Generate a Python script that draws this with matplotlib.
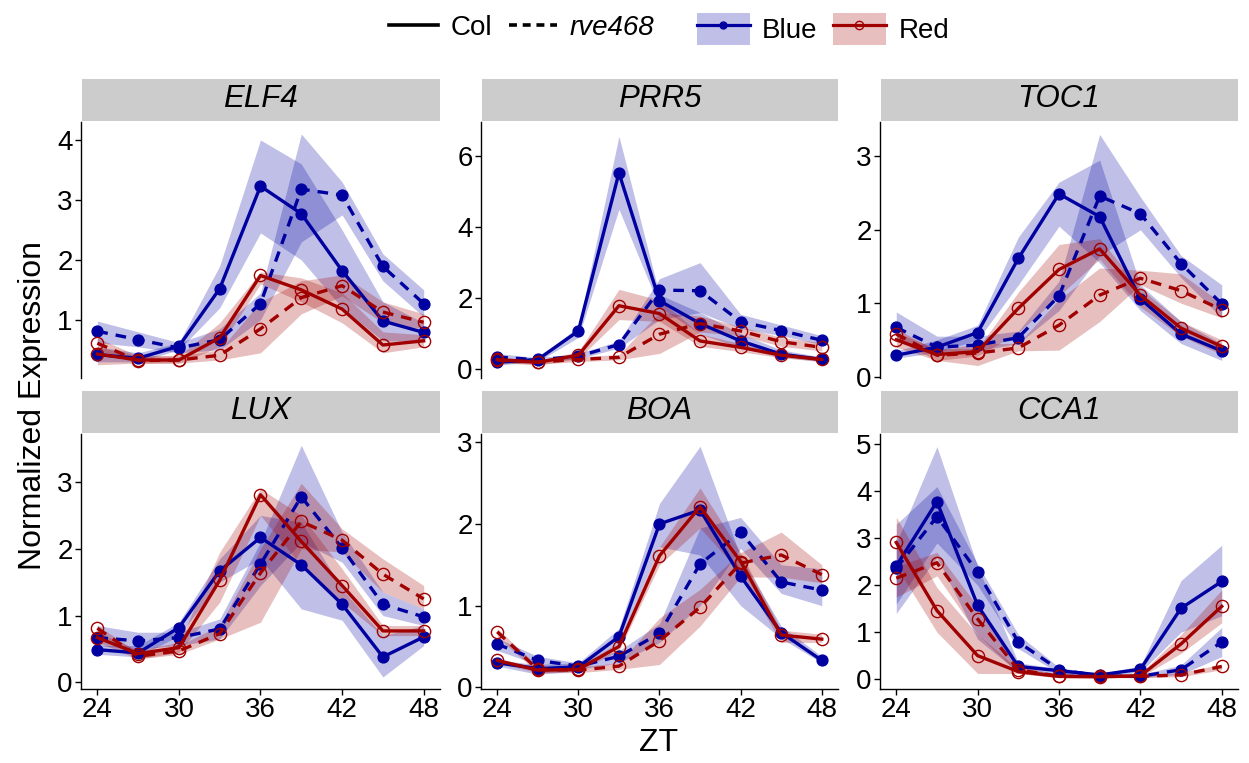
import matplotlib
matplotlib.use("Agg")
import matplotlib.pyplot as plt
from matplotlib.patches import Patch, Rectangle
from matplotlib.lines import Line2D
from matplotlib.legend_handler import HandlerTuple

plt.rcParams['font.family'] = ['Liberation Sans', 'DejaVu Sans']

# ----------------------------------------------------------------------------
# Data: ZT time points, each series is [mean, lower, upper]
# ----------------------------------------------------------------------------
zt = [24, 27, 30, 33, 36, 39, 42, 45, 48]
genes = ["ELF4", "PRR5", "TOC1", "LUX", "BOA", "CCA1"]

elf4_col_blue = [[0.42, 0.36, 0.56, 1.52, 3.23, 2.77, 1.82, 0.98, 0.79],
                 [0.30, 0.30, 0.50, 1.20, 2.45, 2.00, 1.20, 0.65, 0.65],
                 [0.55, 0.45, 0.62, 1.90, 4.00, 3.60, 2.50, 1.30, 0.95]]
elf4_rve_blue = [[0.81, 0.67, 0.53, 0.67, 1.27, 3.18, 3.08, 1.89, 1.27],
                 [0.62, 0.55, 0.45, 0.50, 1.00, 2.30, 2.75, 1.65, 1.05],
                 [0.98, 0.80, 0.62, 0.85, 1.45, 4.10, 3.30, 2.10, 1.50]]
elf4_col_red = [[0.43, 0.33, 0.33, 0.70, 1.74, 1.50, 1.18, 0.58, 0.65],
                [0.25, 0.28, 0.28, 0.55, 1.60, 1.30, 0.95, 0.45, 0.55],
                [0.55, 0.40, 0.40, 0.95, 1.80, 1.70, 1.45, 0.80, 0.75]]
elf4_rve_red = [[0.61, 0.32, 0.33, 0.41, 0.85, 1.37, 1.57, 1.13, 0.96],
                [0.50, 0.27, 0.28, 0.33, 0.45, 1.10, 1.40, 0.95, 0.85],
                [0.70, 0.40, 0.40, 0.50, 1.30, 1.65, 1.75, 1.30, 1.10]]

prr5_col_blue = [[0.20, 0.28, 1.08, 5.52, 1.93, 1.29, 0.80, 0.43, 0.28],
                 [0.12, 0.22, 0.90, 4.50, 1.75, 1.00, 0.60, 0.35, 0.22],
                 [0.30, 0.33, 1.20, 6.55, 2.10, 1.60, 1.00, 0.55, 0.35]]
prr5_rve_blue = [[0.35, 0.27, 0.37, 0.70, 2.23, 2.21, 1.34, 1.09, 0.82],
                 [0.25, 0.22, 0.30, 0.60, 1.40, 1.60, 1.15, 0.95, 0.70],
                 [0.45, 0.33, 0.45, 0.80, 2.55, 3.00, 1.55, 1.25, 0.95]]
prr5_col_red = [[0.28, 0.20, 0.40, 1.79, 1.57, 0.80, 0.62, 0.40, 0.28],
                [0.20, 0.12, 0.30, 1.40, 1.35, 0.65, 0.50, 0.33, 0.22],
                [0.35, 0.25, 0.50, 2.25, 1.95, 1.00, 0.72, 0.48, 0.35]]
prr5_rve_red = [[0.26, 0.21, 0.28, 0.34, 0.99, 1.29, 1.08, 0.78, 0.62],
                [0.20, 0.15, 0.22, 0.27, 0.45, 1.05, 0.95, 0.65, 0.52],
                [0.32, 0.27, 0.35, 0.42, 1.60, 1.50, 1.20, 0.90, 0.75]]

toc1_col_blue = [[0.29, 0.40, 0.60, 1.61, 2.49, 2.18, 1.06, 0.58, 0.35],
                 [0.25, 0.33, 0.50, 1.25, 2.05, 1.55, 0.90, 0.45, 0.22],
                 [0.35, 0.50, 0.70, 1.90, 2.65, 2.95, 1.25, 0.75, 0.45]]
toc1_rve_blue = [[0.67, 0.40, 0.43, 0.53, 1.10, 2.46, 2.22, 1.54, 0.99],
                 [0.50, 0.30, 0.35, 0.45, 0.90, 1.65, 2.00, 1.35, 0.80],
                 [0.88, 0.55, 0.55, 0.62, 1.30, 3.30, 2.45, 1.65, 1.25]]
toc1_col_red = [[0.50, 0.30, 0.34, 0.93, 1.46, 1.74, 1.11, 0.66, 0.41],
                [0.40, 0.22, 0.28, 0.60, 1.10, 1.60, 0.95, 0.55, 0.30],
                [0.60, 0.38, 0.38, 1.15, 1.80, 1.88, 1.20, 0.75, 0.50]]
toc1_rve_red = [[0.58, 0.29, 0.32, 0.39, 0.70, 1.11, 1.34, 1.17, 0.91],
                [0.50, 0.22, 0.15, 0.35, 0.36, 0.75, 1.25, 1.00, 0.80],
                [0.65, 0.35, 0.45, 0.45, 1.05, 1.48, 1.45, 1.40, 1.00]]

lux_col_blue = [[0.49, 0.44, 0.82, 1.67, 2.17, 1.76, 1.17, 0.38, 0.68],
                [0.42, 0.38, 0.70, 1.50, 1.85, 1.10, 0.93, 0.08, 0.55],
                [0.55, 0.55, 0.90, 1.85, 2.50, 2.40, 1.40, 0.70, 0.85]]
lux_rve_blue = [[0.67, 0.62, 0.67, 0.80, 1.77, 2.78, 2.01, 1.17, 0.98],
                [0.55, 0.50, 0.55, 0.65, 1.45, 2.10, 1.80, 1.00, 0.85],
                [0.85, 0.75, 0.75, 0.95, 2.10, 3.55, 2.25, 1.35, 1.10]]
lux_col_red = [[0.67, 0.43, 0.52, 1.53, 2.81, 2.11, 1.45, 0.77, 0.77],
               [0.60, 0.35, 0.45, 1.20, 2.50, 1.75, 1.20, 0.70, 0.70],
               [0.75, 0.48, 0.60, 1.95, 2.90, 2.50, 1.70, 0.85, 0.85]]
lux_rve_red = [[0.81, 0.39, 0.47, 0.73, 1.64, 2.41, 2.13, 1.62, 1.25],
               [0.75, 0.35, 0.42, 0.65, 0.90, 2.00, 1.95, 1.35, 1.10],
               [0.85, 0.45, 0.55, 0.85, 2.00, 2.98, 2.30, 1.85, 1.45]]

boa_col_blue = [[0.30, 0.23, 0.25, 0.62, 2.00, 2.17, 1.36, 0.67, 0.33],
                [0.26, 0.16, 0.20, 0.55, 1.72, 1.62, 1.00, 0.60, 0.30],
                [0.33, 0.28, 0.30, 0.72, 2.25, 2.95, 1.60, 0.75, 0.38]]
boa_rve_blue = [[0.53, 0.33, 0.26, 0.38, 0.66, 1.51, 1.90, 1.29, 1.19],
                [0.45, 0.28, 0.22, 0.30, 0.55, 1.00, 1.70, 1.15, 1.00],
                [0.60, 0.38, 0.30, 0.45, 0.78, 1.95, 2.08, 1.50, 1.45]]
boa_col_red = [[0.33, 0.21, 0.22, 0.50, 1.61, 2.21, 1.54, 0.64, 0.59],
               [0.30, 0.18, 0.20, 0.45, 1.50, 1.95, 1.40, 0.55, 0.55],
               [0.35, 0.25, 0.26, 0.55, 1.72, 2.44, 1.65, 0.70, 0.65]]
boa_rve_red = [[0.68, 0.22, 0.21, 0.26, 0.57, 0.98, 1.52, 1.62, 1.38],
               [0.62, 0.18, 0.18, 0.22, 0.28, 0.75, 1.35, 1.35, 1.28],
               [0.72, 0.26, 0.25, 0.30, 0.85, 1.20, 1.65, 1.90, 1.50]]

cca1_col_blue = [[2.41, 3.78, 1.57, 0.27, 0.18, 0.09, 0.21, 1.51, 2.08],
                 [1.40, 2.60, 0.85, 0.15, 0.12, 0.05, 0.15, 1.00, 1.35],
                 [2.90, 4.95, 2.40, 0.35, 0.22, 0.12, 0.28, 2.10, 2.85]]
cca1_rve_blue = [[2.36, 3.46, 2.28, 0.79, 0.20, 0.07, 0.06, 0.20, 0.79],
                 [1.60, 2.90, 2.00, 0.65, 0.12, 0.04, 0.03, 0.10, 0.48],
                 [3.30, 4.10, 2.45, 0.95, 0.25, 0.10, 0.10, 0.30, 1.10]]
cca1_col_red = [[2.91, 1.46, 0.50, 0.16, 0.06, 0.05, 0.07, 0.75, 1.55],
                [2.40, 1.00, 0.12, 0.12, 0.03, 0.03, 0.04, 0.55, 1.20],
                [3.45, 1.95, 0.95, 0.22, 0.10, 0.08, 0.12, 0.95, 1.90]]
cca1_rve_red = [[2.15, 2.48, 1.28, 0.20, 0.06, 0.06, 0.06, 0.09, 0.27],
                [1.75, 2.20, 0.95, 0.12, 0.03, 0.03, 0.03, 0.05, 0.20],
                [2.40, 2.70, 1.55, 0.28, 0.10, 0.10, 0.10, 0.14, 0.32]]

series = {
    "ELF4": [elf4_col_blue, elf4_rve_blue, elf4_col_red, elf4_rve_red],
    "PRR5": [prr5_col_blue, prr5_rve_blue, prr5_col_red, prr5_rve_red],
    "TOC1": [toc1_col_blue, toc1_rve_blue, toc1_col_red, toc1_rve_red],
    "LUX": [lux_col_blue, lux_rve_blue, lux_col_red, lux_rve_red],
    "BOA": [boa_col_blue, boa_rve_blue, boa_col_red, boa_rve_red],
    "CCA1": [cca1_col_blue, cca1_rve_blue, cca1_col_red, cca1_rve_red],
}

# ----------------------------------------------------------------------------
# Styling / layout
# ----------------------------------------------------------------------------
BLUE = "#0000A0"
RED = "#A00000"
styles = [  # (colour, dashed, filled marker)
    (BLUE, False, True),
    (BLUE, True, True),
    (RED, False, False),
    (RED, True, False),
]
ylims = {"ELF4": (0.03, 4.3), "PRR5": (-0.24, 6.95), "TOC1": (-0.02, 3.47),
         "LUX": (-0.1, 3.72), "BOA": (-0.02, 3.1), "CCA1": (-0.21, 5.22)}
yticks = {"ELF4": [1, 2, 3, 4], "PRR5": [0, 2, 4, 6], "TOC1": [0, 1, 2, 3],
          "LUX": [0, 1, 2, 3], "BOA": [0, 1, 2, 3], "CCA1": [0, 1, 2, 3, 4, 5]}

W, H = 1249, 763
lefts = [81, 481, 880]
widths = [359, 357, 358]
rows = [(122, 378), (434, 689)]
strip_h = 42

fig = plt.figure(figsize=(W / 100, H / 100), dpi=100)

for i, gene in enumerate(genes):
    r, c = divmod(i, 3)
    top, bot = rows[r]
    ax = fig.add_axes([lefts[c] / W, 1 - bot / H, widths[c] / W, (bot - top) / H])

    data = series[gene]
    for (col, dashed, filled), s in zip(styles, data):
        ax.fill_between(zt, s[1], s[2], color=col, alpha=0.25, lw=0, zorder=1)
    for (col, dashed, filled), s in zip(styles, data):
        ln, = ax.plot(zt, s[0], color=col, lw=2.4, zorder=3,
                      marker="o", ms=7.8 if filled else 8.8,
                      mfc=col if filled else "none", mec=col, mew=1.0)
        if dashed:
            ln.set_dashes((3.2, 2.4))

    ax.set_xlim(22.8, 49.2)
    ax.set_ylim(*ylims[gene])
    ax.set_yticks(yticks[gene])
    ax.set_xticks([24, 30, 36, 42, 48])
    for sp in ["top", "right"]:
        ax.spines[sp].set_visible(False)
    for sp in ["left", "bottom"]:
        ax.spines[sp].set_linewidth(1.0)
    ax.tick_params(labelsize=20, length=4, width=1.0, pad=2, colors="black")
    if r == 0:
        ax.spines["bottom"].set_visible(False)
        ax.tick_params(axis="x", bottom=False, labelbottom=False)

    # facet strip
    sh = strip_h / (bot - top)
    ax.add_patch(Rectangle((0.003, 1.0 + 1.5 / (bot - top)), 0.997, sh, transform=ax.transAxes,
                           facecolor="#CCCCCC", edgecolor="none", clip_on=False))
    ax.text(0.5, 1.0 + sh / 2 + 0.006, gene, transform=ax.transAxes, ha="center",
            va="center", fontsize=22.5, style="italic")

fig.text(33 / W, 1 - 405 / H, "Normalized Expression", rotation=90,
         ha="center", va="center", fontsize=23)
fig.text(659 / W, 1 - 743 / H, "ZT", ha="center", va="center", fontsize=23)

# legend: genotype
lt_handles = [Line2D([], [], color="black", lw=2.6),
              Line2D([], [], color="black", lw=2.6, dashes=(2.2, 1.6))]
leg1 = fig.legend(lt_handles, ["Col", "rve468"], loc="center",
                  bbox_to_anchor=(522 / W, 1 - 28 / H), ncol=2, frameon=False,
                  fontsize=20, handlelength=1.75, handletextpad=0.45,
                  columnspacing=0.6, borderpad=0)
leg1.get_texts()[1].set_style("italic")

# legend: light colour
col_handles = [
    (Patch(facecolor=BLUE, alpha=0.25, edgecolor="none"),
     Line2D([], [], color=BLUE, lw=2.3, marker="o", ms=5, mfc=BLUE, mec=BLUE)),
    (Patch(facecolor=RED, alpha=0.25, edgecolor="none"),
     Line2D([], [], color=RED, lw=2.3, marker="o", ms=6, mfc="none", mec=RED)),
]
fig.legend(col_handles, ["Blue", "Red"], loc="center",
           bbox_to_anchor=(823 / W, 1 - 29 / H), ncol=2, frameon=False,
           fontsize=20, handlelength=1.9, handleheight=1.45, handletextpad=0.45,
           columnspacing=0.55, borderpad=0, numpoints=1,
           handler_map={tuple: HandlerTuple(ndivide=1, pad=0)})

fig.savefig("out.png", dpi=100)
